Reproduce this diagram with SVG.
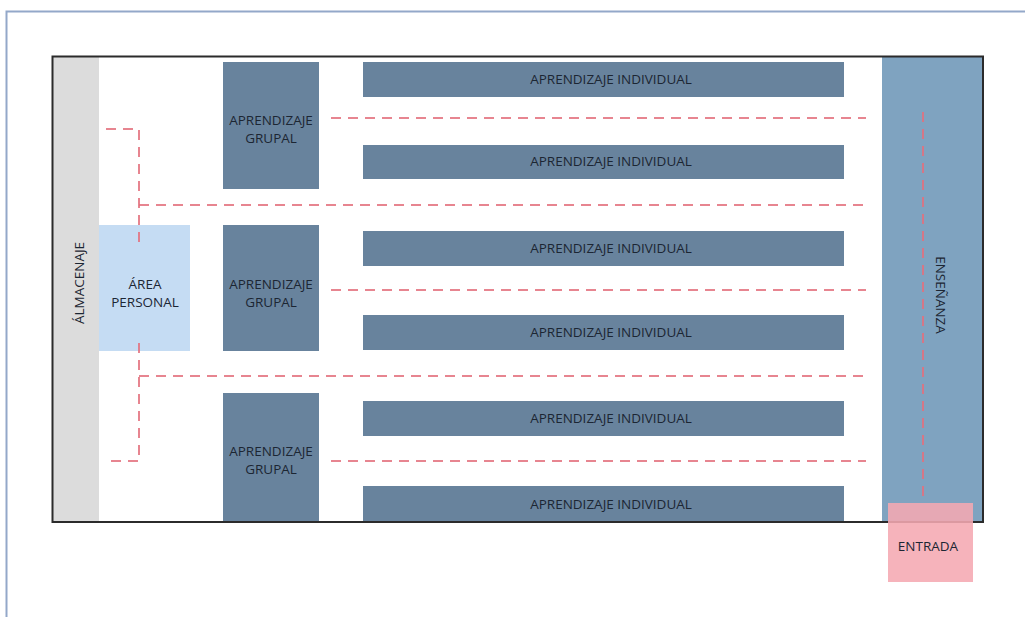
<svg xmlns="http://www.w3.org/2000/svg" width="1025" height="617" viewBox="0 0 1025 617">
<style>
.lbl{font-family:"Open Sans","Liberation Sans",sans-serif;font-size:13.5px;fill:#1c2633;text-anchor:middle}
.ind{fill:#68839d}
.grp{fill:#68839d}
.path{fill:none;stroke:#e3707c;stroke-width:2;stroke-dasharray:10 7;opacity:0.85}
</style>
<rect x="0" y="0" width="1025" height="617" fill="#ffffff"/>
<rect x="6.5" y="11.5" width="1030" height="620" fill="none" stroke="#93a8c9" stroke-width="2"/>
<g id="almacenaje"><rect x="53" y="57" width="46" height="465" fill="#dcdcdc"/><text class="lbl" transform="translate(84,283) rotate(-90)">ÁLMACENAJE</text></g>
<g id="ensenanza"><rect x="882" y="57" width="101" height="465" fill="#7fa3c0"/><text class="lbl" transform="translate(936,295) rotate(90)">ENSEÑANZA</text></g>
<g id="area-personal"><rect x="99" y="225" width="91" height="126" fill="#c5dcf3"/><text class="lbl" x="145" y="289">ÁREA</text><text class="lbl" x="145" y="307">PERSONAL</text></g>
<g id="grupal1"><rect class="grp" x="223" y="62" width="96" height="127"/><text class="lbl" x="271" y="125">APRENDIZAJE</text><text class="lbl" x="271" y="143">GRUPAL</text></g>
<g id="grupal2"><rect class="grp" x="223" y="225" width="96" height="126"/><text class="lbl" x="271" y="289">APRENDIZAJE</text><text class="lbl" x="271" y="307">GRUPAL</text></g>
<g id="grupal3"><rect class="grp" x="223" y="393" width="96" height="129"/><text class="lbl" x="271" y="456">APRENDIZAJE</text><text class="lbl" x="271" y="474">GRUPAL</text></g>
<g id="ind1"><rect class="ind" x="363" y="62" width="481" height="35"/><text class="lbl" x="611" y="84">APRENDIZAJE INDIVIDUAL</text></g>
<g id="ind2"><rect class="ind" x="363" y="145" width="481" height="34"/><text class="lbl" x="611" y="166">APRENDIZAJE INDIVIDUAL</text></g>
<g id="ind3"><rect class="ind" x="363" y="231" width="481" height="35"/><text class="lbl" x="611" y="253">APRENDIZAJE INDIVIDUAL</text></g>
<g id="ind4"><rect class="ind" x="363" y="315" width="481" height="35"/><text class="lbl" x="611" y="337">APRENDIZAJE INDIVIDUAL</text></g>
<g id="ind5"><rect class="ind" x="363" y="401" width="481" height="35"/><text class="lbl" x="611" y="423">APRENDIZAJE INDIVIDUAL</text></g>
<g id="ind6"><rect class="ind" x="363" y="486" width="481" height="36"/><text class="lbl" x="611" y="509">APRENDIZAJE INDIVIDUAL</text></g>
<rect x="52.5" y="56.5" width="930.5" height="465.5" fill="none" stroke="#2b2b2b" stroke-width="2"/>
<g id="connectors">
<path class="path" d="M331,118 H866"/>
<path class="path" d="M139,205 H866"/>
<path class="path" d="M331,290 H866"/>
<path class="path" d="M139,376 H866"/>
<path class="path" d="M331,461 H866"/>
<path class="path" d="M106,129 H139 V248"/>
<path class="path" d="M139,343 V461 H106"/>
<path class="path" d="M923,112 V500"/>
</g>
<g id="entrada"><rect x="888" y="503" width="85" height="79" fill="#f5a8b2" opacity="0.88"/><text class="lbl" x="928" y="551">ENTRADA</text></g>
</svg>
